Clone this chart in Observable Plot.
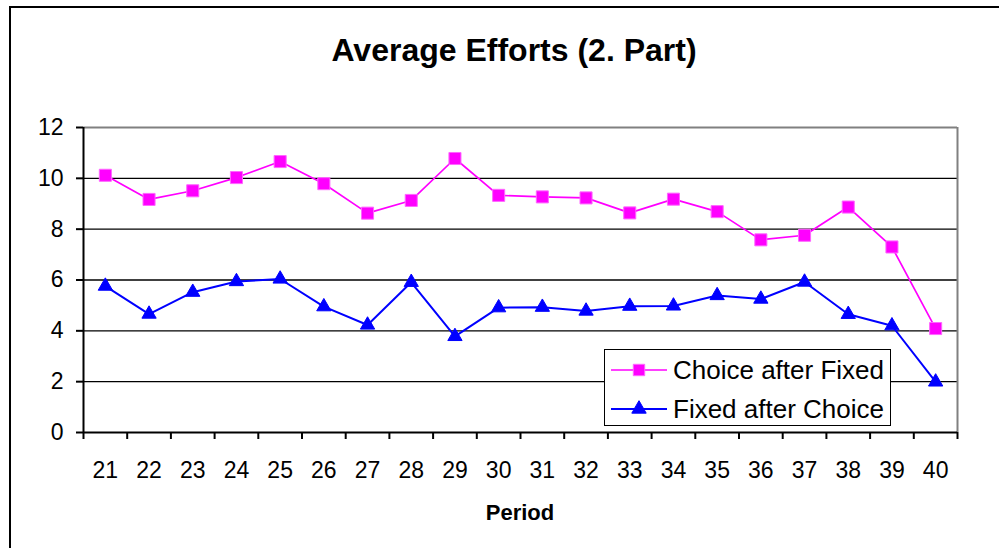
<!DOCTYPE html>
<html><head><meta charset="utf-8">
<script src="https://cdn.jsdelivr.net/npm/d3@7"></script>
<script src="https://cdn.jsdelivr.net/npm/@observablehq/plot@0.6"></script>
<style>
body{margin:0;background:#fff;overflow:hidden;font-family:Arial,"Liberation Sans",sans-serif;}
#wrap{position:relative;width:999px;height:548px;overflow:hidden;}
#border{position:absolute;left:9px;top:6px;width:1000px;height:600px;border:2px solid #000;box-sizing:border-box;}
#title{position:absolute;left:0;width:1028px;top:34px;line-height:1;text-align:center;font-weight:bold;font-size:32px;white-space:nowrap;}
#xlabel{position:absolute;left:83px;width:874px;top:502px;line-height:1;text-align:center;font-weight:bold;font-size:22px;}
#legend{position:absolute;left:604px;top:349px;width:287px;height:77px;border:1.5px solid #000;background:#fff;box-sizing:border-box;}
.row{position:absolute;left:6px;height:28px;display:flex;align-items:center;font-size:26px;white-space:nowrap;}
.row svg{margin-right:6px;}
#chart{position:absolute;left:0;top:0;}
</style></head>
<body>
<div id="wrap">
  <div id="border"></div>
  <div id="chart"></div>
  <div id="title">Average Efforts (2. Part)</div>
  <div id="xlabel">Period</div>
  <div id="legend"></div>
</div>
<script>
const periods = [21,22,23,24,25,26,27,28,29,30,31,32,33,34,35,36,37,38,39,40];
const choiceAfterFixed = [10.12,9.17,9.51,10.03,10.66,9.79,8.63,9.13,10.78,9.33,9.27,9.23,8.64,9.18,8.69,7.58,7.76,8.87,7.30,4.09];
const fixedAfterChoice = [5.76,4.66,5.52,5.94,6.04,4.95,4.23,5.91,3.78,4.91,4.93,4.78,4.97,4.98,5.39,5.25,5.92,4.65,4.20,1.99];
const yTicks = [0,2,4,6,8,10,12];
const seriesNames = ["Choice after Fixed","Fixed after Choice"];
const colors = ["#FF00FF","#0000FF"];

const data = periods.map((p,i)=>({period:p, choice:choiceAfterFixed[i], fixed:fixedAfterChoice[i]}));
const boundaries = periods.map(p=>p-0.5).concat([periods[periods.length-1]+0.5]);

const chart = Plot.plot({
  width:999, height:548,
  marginLeft:83, marginRight:42, marginTop:127, marginBottom:116,
  style:{fontFamily:'Arial, "Liberation Sans", sans-serif', fontSize:"23px", color:"#000", background:"transparent", overflow:"visible"},
  x:{domain:[boundaries[0], boundaries[boundaries.length-1]]},
  y:{domain:[0,12]},
  marks:[
    Plot.ruleY(yTicks.filter(v=>v>0 && v<12), {stroke:"#000", strokeWidth:1.3}),
    Plot.ruleY([12], {stroke:"#808080", strokeWidth:2}),
    Plot.ruleX([boundaries[boundaries.length-1]], {stroke:"#808080", strokeWidth:2}),
    Plot.axisY(yTicks, {tickSize:7, tickPadding:13, strokeWidth:2, label:null, fontSize:23}),
    Plot.axisX(boundaries, {tickSize:7, strokeWidth:2, tickFormat:()=>"", label:null}),
    Plot.axisX(periods, {tickSize:0, tickPadding:29, label:null, fontSize:23, tickFormat:d=>String(d)}),
    Plot.ruleX([boundaries[0]], {stroke:"#000", strokeWidth:2}),
    Plot.ruleY([0], {stroke:"#000", strokeWidth:2}),
    Plot.line(data, {x:"period", y:"choice", stroke:colors[0], strokeWidth:1.7}),
    Plot.dot(data, {x:"period", y:"choice", symbol:"square", r:6.8, fill:colors[0], stroke:"#FF66FF", strokeWidth:1}),
    Plot.line(data, {x:"period", y:"fixed", stroke:colors[1], strokeWidth:2}),
    Plot.dot(data, {x:"period", y:"fixed", symbol:"triangle", r:5.3, fill:colors[1], stroke:colors[1], strokeWidth:1})
  ]
});
document.getElementById("chart").appendChild(chart);

const legend = document.getElementById("legend");
const symbols = [d3.symbolSquare, d3.symbolTriangle];
const sizes = [130, 90];
seriesNames.forEach((name,i)=>{
  const row = document.createElement("div");
  row.className = "row";
  row.style.top = (i===0 ? 6 : 45) + "px";
  const path = d3.symbol(symbols[i], sizes[i])();
  row.innerHTML = `<svg width="56" height="28"><line x1="0" x2="56" y1="14" y2="14" stroke="${colors[i]}" stroke-width="${i?2:1.7}"/><path transform="translate(28,14)" d="${path}" fill="${colors[i]}" stroke="${i?colors[i]:'#FF66FF'}"/></svg><span>${name}</span>`;
  legend.appendChild(row);
});
</script>
</body></html>
